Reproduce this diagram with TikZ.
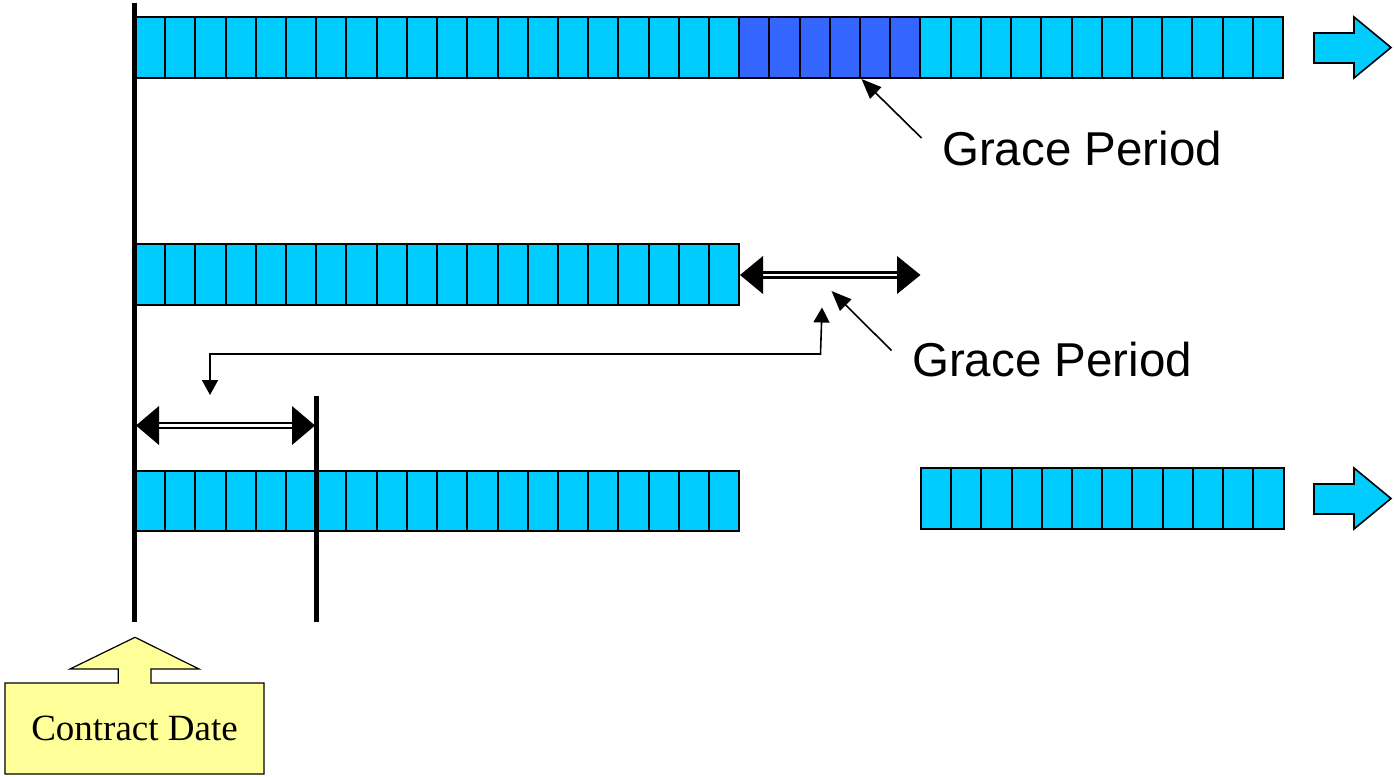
\documentclass[tikz,border=0pt]{standalone}
\usepackage{fontspec}
\setmainfont{Liberation Serif}
\newfontfamily\arialf{Liberation Sans}
\usetikzlibrary{arrows.meta}
\definecolor{cellcyan}{HTML}{00CCFF}
\definecolor{celldark}{HTML}{3366FF}
\definecolor{calloutyellow}{HTML}{FFFF99}
\tikzset{
  cellbox/.style={draw=black, line width=2pt, fill=cellcyan},
  darkcell/.style={draw=black, line width=2pt, fill=celldark},
  timeline/.style={draw=black, line width=5pt},
  pointer/.style={draw=black, line width=1.6pt, -{Triangle[length=20pt,width=16pt]}},
  elbowline/.style={draw=black, line width=1.6pt, {Triangle[length=15pt,width=16pt]}-{Triangle[length=15pt,width=16pt]}},
  dblline/.style={draw=black, double=white, line width=2.6pt, double distance=2.2pt},
  headfill/.style={fill=black},
  blockarrow/.style={draw=black, line width=1.6pt, fill=cellcyan},
  gplabel/.style={font=\arialf\fontsize{47.5}{55}\selectfont, inner sep=0pt, anchor=base west},
}
\begin{document}
\begin{tikzpicture}[x=1pt,y=-1pt]
\useasboundingbox[fill=white] (0,0) rectangle (1394,776);
% row 1
\foreach \i in {0,...,37}{
  \pgfmathsetmacro\xa{135+\i*30.21}
  \pgfmathsetmacro\xb{135+(\i+1)*30.21}
  \ifnum\i>19 \ifnum\i<26
    \draw[darkcell] (\xa,17) rectangle (\xb,78);
  \else
    \draw[cellbox] (\xa,17) rectangle (\xb,78);
  \fi\else
    \draw[cellbox] (\xa,17) rectangle (\xb,78);
  \fi
}
% row 2
\foreach \i in {0,...,19}{
  \draw[cellbox] ({135+\i*30.21},244) rectangle ({135+(\i+1)*30.21},305);
}
% row 3 left
\foreach \i in {0,...,19}{
  \draw[cellbox] ({135+\i*30.21},471) rectangle ({135+(\i+1)*30.21},531);
}
% row 3 right
\foreach \i in {0,...,11}{
  \draw[cellbox] ({921+\i*30.21},468) rectangle ({921+(\i+1)*30.21},529);
}
% block arrows
\draw[blockarrow] (1314,33) -- (1354,33) -- (1354,17) -- (1391,47.5) -- (1354,78) -- (1354,63) -- (1314,63) -- cycle;
\draw[blockarrow] (1314,484) -- (1354,484) -- (1354,468) -- (1391,498.5) -- (1354,529) -- (1354,514) -- (1314,514) -- cycle;
% timelines
\coordinate (cdtop) at (134.5,3);
\coordinate (cdbot) at (134.5,622);
\draw[timeline] (cdtop) -- (cdbot);
\coordinate (ltop) at (316,396);
\coordinate (lbot) at (316,622);
\draw[timeline] (ltop) -- (lbot);
% labels
\node[gplabel] (gp1) at (942,165) {Grace Period};
\node[gplabel] (gp2) at (912,376.7) {Grace Period};
% pointer 1
\coordinate (p1s) at (921.5,138);
\coordinate (p1e) at (861.5,79);
\draw[pointer] (p1s) -- (p1e);
% double arrow row 2
\coordinate (da1l) at (740,275);
\coordinate (da1r) at (920.5,275);
\draw[dblline] (762,275) -- (898,275);
\fill[headfill] (da1l) -- (763,256) -- (763,294) -- cycle;
\fill[headfill] (da1r) -- (897,256) -- (897,294) -- cycle;
% pointer 2
\coordinate (p2s) at (891.5,350.5);
\coordinate (p2e) at (831.5,291);
\draw[pointer] (p2s) -- (p2e);
% elbow arrow
\coordinate (e1) at (210,395);
\coordinate (e2) at (210,354);
\coordinate (e3) at (820.5,354);
\coordinate (e4) at (822,307.5);
\draw[elbowline] (e1) -- (e2) -- (e3) -- (e4);
% double arrow row 3
\coordinate (da2l) at (136,425.5);
\coordinate (da2r) at (315,425.5);
\draw[dblline] (158,425.5) -- (293,425.5);
\fill[headfill] (da2l) -- (159,406) -- (159,445) -- cycle;
\fill[headfill] (da2r) -- (292,406) -- (292,445) -- cycle;
% contract date callout
\draw[draw=black, line width=1.2pt, fill=calloutyellow]
  (5,683) -- (118.3,683) -- (118.3,669) -- (70,669) -- (135,637.3) -- (199,669) -- (151,669) -- (151,683) -- (264,683) -- (264,774) -- (5,774) -- cycle;
\node[font=\fontsize{37}{44}\selectfont, inner sep=0pt] (cd) at (134.5,728.5) {Contract Date};
\end{tikzpicture}
\end{document}
